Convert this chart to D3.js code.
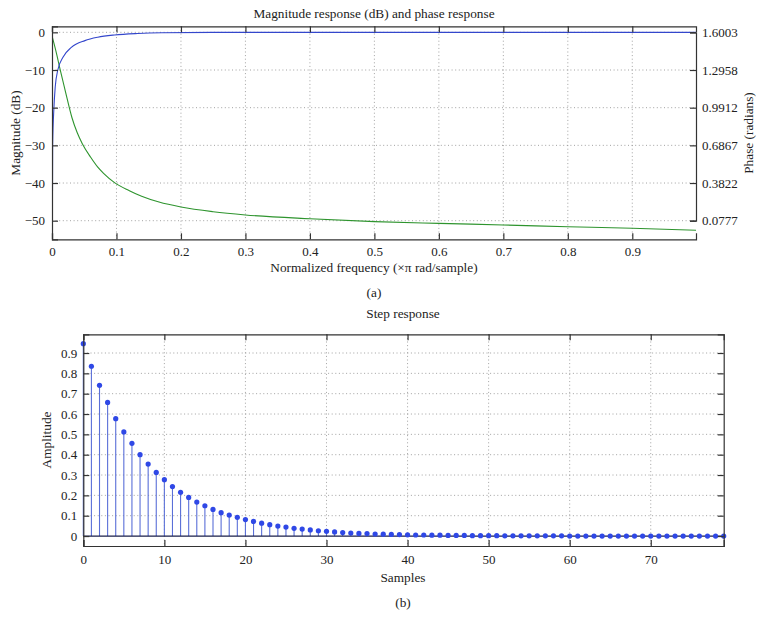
<!DOCTYPE html>
<html>
<head>
<meta charset="utf-8">
<script src="https://cdn.jsdelivr.net/npm/d3@7"></script>
<style>
  body { margin: 0; background: #fff; }
  svg text { font-family: "Liberation Serif", "DejaVu Serif", serif; fill: #222; }
</style>
</head>
<body>
<script>
var w = 762; // Width of the page
var h = 631; // Height of the page

// Top chart data: normalized frequency (x pi rad/sample), magnitude (dB), phase (radians)
var magFreq = [0, 0.001, 0.003, 0.005, 0.009, 0.017, 0.030, 0.051, 0.071, 0.097, 0.133, 0.17, 0.25, 0.4, 0.6, 0.8, 0.999];
var magDb = [-80, -30, -20, -14.5, -10, -6.6, -4.0, -2.2, -1.3, -0.7, -0.3, -0.1, 0, 0, 0, 0, 0];
var phaseFreq = [0, 0.006, 0.0135, 0.02, 0.031, 0.039, 0.047, 0.06, 0.071, 0.08, 0.097, 0.12, 0.139, 0.166, 0.2, 0.25, 0.3, 0.4, 0.5, 0.6, 0.7, 0.8, 0.9, 0.999];
var phaseRad = [1.5708, 1.45, 1.28, 1.14, 0.91, 0.79, 0.70, 0.59, 0.51, 0.46, 0.385, 0.32, 0.275, 0.228, 0.188, 0.150, 0.124, 0.093, 0.070, 0.056, 0.043, 0.029, 0.016, 0.000];
var freqTicks = [0, 0.1, 0.2, 0.3, 0.4, 0.5, 0.6, 0.7, 0.8, 0.9];
var dbTicks = [0, -10, -20, -30, -40, -50];
var phaseTickLabels = ["1.6003", "1.2958", "0.9912", "0.6867", "0.3822", "0.0777"];

// Bottom chart data: step response
var stepAmp = [0.946, 0.835, 0.741, 0.657, 0.577, 0.512, 0.456, 0.400, 0.354, 0.313,
               0.277, 0.243, 0.215, 0.190, 0.167, 0.149, 0.131, 0.115, 0.103, 0.092,
               0.081, 0.072, 0.063, 0.056, 0.049, 0.044, 0.038, 0.034, 0.030, 0.026,
               0.023, 0.020, 0.017, 0.015, 0.013, 0.012, 0.010, 0.009, 0.008, 0.007,
               0.006, 0.005, 0.005, 0.004, 0.004, 0.003, 0.003, 0.003, 0.002, 0.002,
               0.002, 0.002, 0.001, 0.001, 0.001, 0.001, 0.001, 0.001, 0.001, 0.001,
               0, 0, 0, 0, 0, 0, 0, 0, 0, 0,
               0, 0, 0, 0, 0, 0, 0, 0, 0, 0];
var sampleTicks = [0, 10, 20, 30, 40, 50, 60, 70];
var ampTicks = [0, 0.1, 0.2, 0.3, 0.4, 0.5, 0.6, 0.7, 0.8, 0.9];

var blue = "#3447cc";
var green = "#2e942e";
var stemBlue = "#2f48e6";
var gridColor = "#8a8a8a";
var axisColor = "#333";

var svg = d3.select("body")
    .append("svg")
    .attr("width", w)
    .attr("height", h);

// ---------- Top chart ----------
var top1 = {left: 52, right: 696, top: 26.3, bottom: 239.3};

var xFreq = d3.scaleLinear()
    .domain([0, 0.9988])
    .range([top1.left, top1.right]);

var yMag = d3.scaleLinear()
    .domain([-54.94, 1.6])
    .range([top1.bottom, top1.top]);

// Right axis ticks sit on the same rows as the left ones
var yPhase = d3.scaleLinear()
    .domain([+phaseTickLabels[5], +phaseTickLabels[0]])
    .range([yMag(dbTicks[5]), yMag(dbTicks[0])]);

var g1 = svg.append("g");

svg.append("clipPath")
    .attr("id", "clip1")
    .append("rect")
    .attr("x", top1.left)
    .attr("y", top1.top)
    .attr("width", top1.right - top1.left)
    .attr("height", top1.bottom - top1.top);

// grid
g1.selectAll(".vgrid")
    .data(freqTicks.slice(1))
    .join("line")
    .attr("x1", function(d) { return xFreq(d); })
    .attr("x2", function(d) { return xFreq(d); })
    .attr("y1", top1.top)
    .attr("y2", top1.bottom)
    .attr("stroke", gridColor)
    .attr("stroke-width", 0.8)
    .attr("stroke-dasharray", "1,2.6");

g1.selectAll(".hgrid")
    .data(dbTicks)
    .join("line")
    .attr("x1", top1.left)
    .attr("x2", top1.right)
    .attr("y1", function(d) { return yMag(d); })
    .attr("y2", function(d) { return yMag(d); })
    .attr("stroke", gridColor)
    .attr("stroke-width", 0.8)
    .attr("stroke-dasharray", "1,2.6");

// curves
var magLine = d3.line()
    .x(function(d, i) { return xFreq(magFreq[i]); })
    .y(function(d) { return yMag(d); })
    .curve(d3.curveMonotoneX);

var phaseLine = d3.line()
    .x(function(d, i) { return xFreq(phaseFreq[i]); })
    .y(function(d) { return yPhase(d); })
    .curve(d3.curveMonotoneX);

g1.append("path")
    .attr("d", phaseLine(phaseRad))
    .attr("fill", "none")
    .attr("stroke", green)
    .attr("stroke-width", 1.1)
    .attr("clip-path", "url(#clip1)");

g1.append("path")
    .attr("d", magLine(magDb))
    .attr("fill", "none")
    .attr("stroke", blue)
    .attr("stroke-width", 1.1)
    .attr("clip-path", "url(#clip1)");

// axes (inward ticks, MATLAB style box)
g1.append("g")
    .attr("transform", "translate(0," + top1.bottom + ")")
    .call(d3.axisBottom(xFreq).tickValues(freqTicks).tickSize(-6).tickPadding(7)
        .tickFormat(function(d) { return d === 0 ? "0" : d3.format(".1f")(d); }));

g1.append("g")
    .attr("transform", "translate(0," + top1.top + ")")
    .call(d3.axisTop(xFreq).tickValues(freqTicks).tickSize(-6).tickFormat(""));

g1.append("g")
    .attr("transform", "translate(" + top1.left + ",0)")
    .call(d3.axisLeft(yMag).tickValues(dbTicks).tickSize(-6).tickPadding(7));

g1.append("g")
    .attr("transform", "translate(" + top1.right + ",0)")
    .call(d3.axisRight(yPhase).tickValues(phaseTickLabels.map(Number)).tickSize(-6).tickPadding(6)
        .tickFormat(function(d, i) { return phaseTickLabels[i]; }));

// ---------- Bottom chart ----------
var bot = {left: 83.3, right: 723.7, top: 334.3, bottom: 546};

var xS = d3.scaleLinear()
    .domain([0, 79])
    .range([bot.left, bot.right]);

var yA = d3.scaleLinear()
    .domain([-0.049, 0.992])
    .range([bot.bottom, bot.top]);

var g2 = svg.append("g");

g2.selectAll(".vgrid")
    .data(sampleTicks.slice(1))
    .join("line")
    .attr("x1", function(d) { return xS(d); })
    .attr("x2", function(d) { return xS(d); })
    .attr("y1", bot.top)
    .attr("y2", bot.bottom)
    .attr("stroke", gridColor)
    .attr("stroke-width", 0.8)
    .attr("stroke-dasharray", "1,2.6");

g2.selectAll(".hgrid")
    .data(ampTicks.slice(1))
    .join("line")
    .attr("x1", bot.left)
    .attr("x2", bot.right)
    .attr("y1", function(d) { return yA(d); })
    .attr("y2", function(d) { return yA(d); })
    .attr("stroke", gridColor)
    .attr("stroke-width", 0.8)
    .attr("stroke-dasharray", "1,2.6");

// stems
g2.selectAll(".stem")
    .data(stepAmp)
    .join("line")
    .attr("x1", function(d, i) { return xS(i); })
    .attr("x2", function(d, i) { return xS(i); })
    .attr("y1", yA(0))
    .attr("y2", function(d) { return yA(d); })
    .attr("stroke", "#5a6fd8")
    .attr("stroke-width", 1.1);

// baseline
g2.append("line")
    .attr("x1", bot.left)
    .attr("x2", bot.right)
    .attr("y1", yA(0))
    .attr("y2", yA(0))
    .attr("stroke", "#1a1f4a")
    .attr("stroke-width", 1.2);

g2.selectAll(".dot")
    .data(stepAmp)
    .join("circle")
    .attr("cx", function(d, i) { return xS(i); })
    .attr("cy", function(d) { return yA(d); })
    .attr("r", 2.6)
    .attr("fill", stemBlue);

g2.append("g")
    .attr("transform", "translate(0," + bot.bottom + ")")
    .call(d3.axisBottom(xS).tickValues(sampleTicks).tickSize(-6).tickPadding(9));

g2.append("g")
    .attr("transform", "translate(0," + bot.top + ")")
    .call(d3.axisTop(xS).tickValues(sampleTicks).tickSize(-6).tickFormat(""));

g2.append("g")
    .attr("transform", "translate(" + bot.left + ",0)")
    .call(d3.axisLeft(yA).tickValues(ampTicks).tickSize(-6).tickPadding(6)
        .tickFormat(function(d) { return d === 0 ? "0" : d3.format(".1f")(d); }));

g2.append("g")
    .attr("transform", "translate(" + bot.right + ",0)")
    .call(d3.axisRight(yA).tickValues(ampTicks).tickSize(-6).tickFormat(""));

// axis styling
svg.selectAll(".domain").attr("stroke", axisColor).attr("stroke-width", 1.2);
svg.selectAll(".tick line").attr("stroke", axisColor).attr("stroke-width", 1.2);
svg.selectAll(".tick text")
    .attr("font-size", "13px")
    .attr("font-family", "Liberation Serif, DejaVu Serif, serif")
    .attr("fill", "#222");

// ---------- Labels ----------
function label(x, y, txt, rot) {
    var t = svg.append("text")
        .attr("text-anchor", "middle")
        .attr("font-size", "13.3px")
        .text(txt);
    if (rot) {
        t.attr("transform", "translate(" + x + "," + y + ") rotate(" + rot + ")");
    } else {
        t.attr("x", x).attr("y", y);
    }
    return t;
}

label(374, 18, "Magnitude response (dB) and phase response");
label(20, 133, "Magnitude (dB)", -90);
label(753, 133, "Phase (radians)", -90);
label(374, 272, "Normalized frequency (×π rad/sample)");
label(374, 297, "(a)");

label(403, 318, "Step response");
label(51, 440, "Amplitude", -90);
label(403, 582, "Samples");
label(403, 607, "(b)");
</script>
</body>
</html>
